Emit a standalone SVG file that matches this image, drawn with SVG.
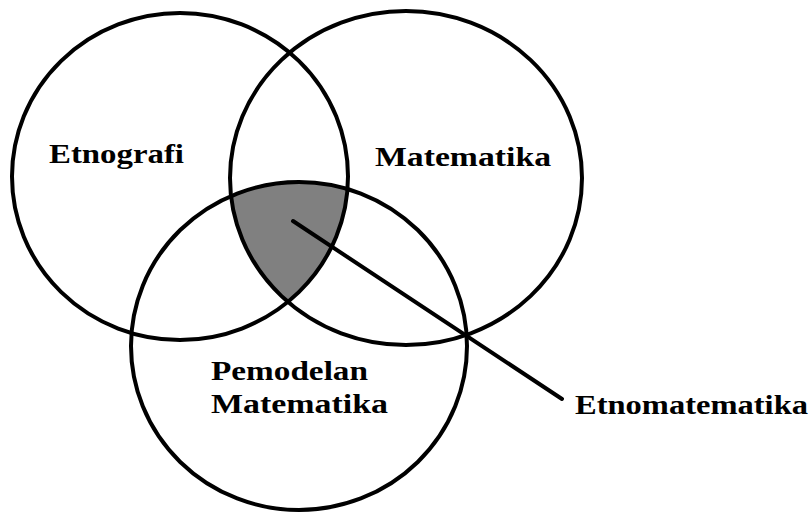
<svg xmlns="http://www.w3.org/2000/svg" width="811" height="514" viewBox="0 0 811 514">
  <style>
    .ring { fill: none; stroke: #000; stroke-width: 4; }
    .lbl { font-family: "Liberation Serif", "Times New Roman", serif; font-weight: bold; font-size: 27px; fill: #000; }
    .conn { stroke: #000; stroke-width: 4; stroke-linecap: round; fill: none; }
  </style>
  <defs>
    <clipPath id="clipLeft"><ellipse cx="180" cy="176.5" rx="168" ry="163.5"/></clipPath>
    <clipPath id="clipRight"><ellipse cx="406" cy="178" rx="176" ry="167"/></clipPath>
  </defs>
  <rect width="811" height="514" fill="#fff"/>
  <g id="intersection" clip-path="url(#clipLeft)">
    <g clip-path="url(#clipRight)">
      <ellipse cx="299" cy="346" rx="168" ry="164" fill="#808080"/>
    </g>
  </g>
  <g id="etnografi">
    <ellipse class="ring" cx="180" cy="176.5" rx="168" ry="163.5"/>
    <text class="lbl" x="49" y="163" textLength="135" lengthAdjust="spacingAndGlyphs">Etnografi</text>
  </g>
  <g id="matematika">
    <ellipse class="ring" cx="406" cy="178" rx="176" ry="167"/>
    <text class="lbl" x="375" y="166" textLength="176" lengthAdjust="spacingAndGlyphs">Matematika</text>
  </g>
  <g id="pemodelan">
    <ellipse class="ring" cx="299" cy="346" rx="168" ry="164"/>
    <text class="lbl" x="211" y="380" textLength="157" lengthAdjust="spacingAndGlyphs">Pemodelan</text>
    <text class="lbl" x="211" y="413" textLength="177" lengthAdjust="spacingAndGlyphs">Matematika</text>
  </g>
  <g id="connectors">
    <line class="conn" x1="293" y1="221" x2="562" y2="399"/>
  </g>
  <g id="etnomatematika">
    <text class="lbl" x="575" y="414" textLength="233" lengthAdjust="spacingAndGlyphs">Etnomatematika</text>
  </g>
</svg>
